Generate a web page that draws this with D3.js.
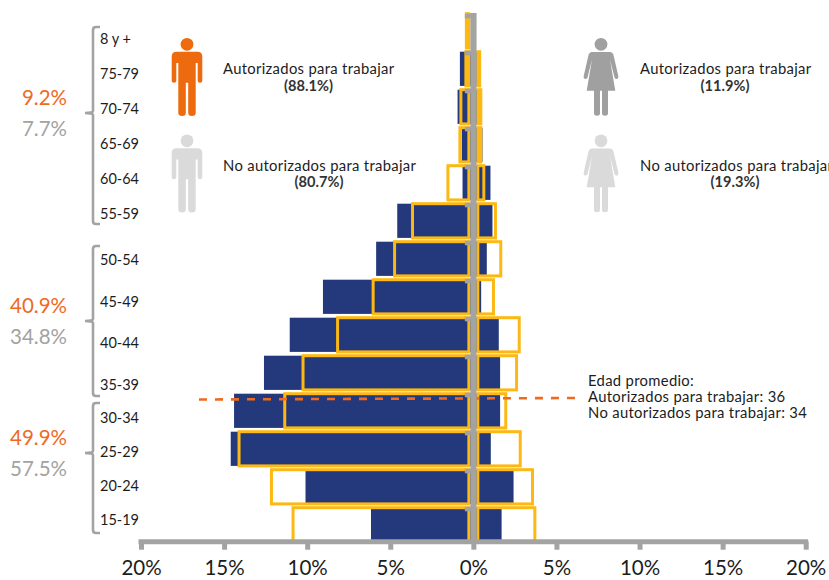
<!DOCTYPE html>
<html lang="es">
<head>
<meta charset="utf-8">
<title>Pirámide de edad</title>
<script src="https://cdn.jsdelivr.net/npm/d3@7"></script>
<style>
  html, body { margin: 0; padding: 0; background: #fff; overflow: hidden; }
  svg { display: block; font-family: Lato, "Open Sans", sans-serif; }
</style>
</head>
<body>
<svg id="chart" width="829" height="580"></svg>
<script>
// Age groups, oldest at the top
const ageGroups = ["8 y +", "75-79", "70-74", "65-69", "60-64", "55-59", "50-54", "45-49", "40-44", "35-39", "30-34", "25-29", "20-24", "15-19"];

// Share of each population, in percent (men to the left, women to the right)
const authorizedMen     = [0, 0.81, 0.95, 0.7, 0.65, 4.58, 5.85, 9.05, 11.05, 12.6, 14.4, 14.6, 10.1, 6.16];
const authorizedWomen   = [0, 0.2, 0.35, 0.55, 1.03, 1.15, 0.81, 0.47, 1.53, 1.61, 1.61, 1.05, 2.42, 1.7];
const unauthorizedMen   = [0.42, 0.45, 0.75, 0.81, 1.53, 3.66, 4.74, 6.03, 8.17, 10.25, 11.35, 14.1, 12.15, 10.85];
const unauthorizedWomen = [0, 0.38, 0.45, 0.45, 0.63, 1.33, 1.65, 1.21, 2.76, 2.6, 1.95, 2.82, 3.56, 3.7];

const axisTicks = [-20, -15, -10, -5, 0, 5, 10, 15, 20];

// Bracketed age ranges with their share for each population
const bracketGroups = [
  { ages: ageGroups.slice(0, 6), top: 27, bottom: 224, nub: 113, authorized: "9.2%", unauthorized: "7.7%", y1: 105, y2: 136, labelStart: 44, labelStep: 35 },
  { ages: ageGroups.slice(6, 10), top: 246, bottom: 396, nub: 321, authorized: "40.9%", unauthorized: "34.8%", y1: 313, y2: 344, labelStart: 265, labelStep: 41.5 },
  { ages: ageGroups.slice(10), top: 403, bottom: 533, nub: 453, authorized: "49.9%", unauthorized: "57.5%", y1: 445, y2: 476, labelStart: 423, labelStep: 34 }
];

const averageAgeNote = ["Edad promedio:", "Autorizados para trabajar: 36", "No autorizados para trabajar: 34"];

const legendEntries = [
  { figure: "man", color: "#EE6A0E", x: 187, dy: 0, label: "Autorizados para trabajar", value: "(88.1%)", tx: 223, vx: 308.5 },
  { figure: "man", color: "#DADADA", x: 187, dy: 96.5, label: "No autorizados para trabajar", value: "(80.7%)", tx: 223, vx: 319 },
  { figure: "woman", color: "#A0A0A0", x: 601, dy: 0, label: "Autorizados para trabajar", value: "(11.9%)", tx: 640, vx: 725 },
  { figure: "woman", color: "#DADADA", x: 601, dy: 96.5, label: "No autorizados para trabajar", value: "(19.3%)", tx: 640, vx: 735 }
];

const BLUE = "#24397B", YELLOW = "#FDB813", GRAY = "#A3A3A1", ORANGE = "#EE6A1F", INK = "#1c1c1c";

const svg = d3.select("#chart");
const x = d3.scaleLinear().domain([-20, 20]).range([141, 805.7]);
const y = d3.scaleBand().domain(ageGroups).range([13.7, 541.9]).paddingInner(0.1).paddingOuter(0);
const x0 = x(0);
const spineGap = 4.5;   // unauthorized outlines stop short of the centre spine

const rows = ageGroups.map((age, i) => ({
  age,
  men: authorizedMen[i], women: authorizedWomen[i],
  outlineMen: unauthorizedMen[i], outlineWomen: unauthorizedWomen[i]
}));

// Filled bars: authorized population
svg.append("g").selectAll("rect").data(rows).join("rect")
  .attr("x", d => x(-d.men))
  .attr("y", d => y(d.age))
  .attr("width", d => x(d.women) - x(-d.men))
  .attr("height", y.bandwidth())
  .attr("fill", BLUE);

// Outlined bars: unauthorized population
const outlines = svg.append("g").attr("fill", "none").attr("stroke", YELLOW).attr("stroke-width", 3);
outlines.selectAll("rect.m").data(rows.filter(d => d.outlineMen > 0)).join("rect").attr("class", "m")
  .attr("x", d => x(-d.outlineMen))
  .attr("y", d => y(d.age))
  .attr("width", d => x0 - spineGap - x(-d.outlineMen))
  .attr("height", y.bandwidth());
outlines.selectAll("rect.w").data(rows.filter(d => d.outlineWomen > 0)).join("rect").attr("class", "w")
  .attr("x", x0 + spineGap)
  .attr("y", d => y(d.age))
  .attr("width", d => x(d.outlineWomen) - x0 - spineGap)
  .attr("height", y.bandwidth());

// Average age marker
svg.append("line")
  .attr("x1", 199).attr("x2", 576).attr("y1", 399.5).attr("y2", 398)
  .attr("stroke", ORANGE).attr("stroke-width", 2.6).attr("stroke-dasharray", "8 8");

// Centre spine with a notch at the top of each age band
svg.append("rect").attr("x", x0 - 3).attr("y", 13).attr("width", 6.2).attr("height", 529).attr("fill", GRAY);
svg.append("g").selectAll("rect").data(ageGroups).join("rect")
  .attr("x", x0 - 8.5)
  .attr("y", d => y(d) - 1 + (ageGroups.indexOf(d) === 0 ? 1 : 0))
  .attr("width", 6)
  .attr("height", 4.6)
  .attr("fill", GRAY);

// Horizontal percentage axis
const axis = d3.axisBottom(x).tickValues(axisTicks).tickFormat(d => Math.abs(d) + "%").tickSize(8).tickSizeOuter(0).tickPadding(11);
const axisG = svg.append("g").attr("transform", "translate(0,541.7)").call(axis);
axisG.select(".domain").attr("stroke", GRAY).attr("stroke-width", 5).attr("d", `M${x(-20) - 2.5},0H${x(20) + 2.5}`);
axisG.selectAll(".tick line").attr("stroke", GRAY).attr("stroke-width", 5);
axisG.selectAll(".tick text").attr("fill", INK).attr("font-size", 20.5).attr("font-family", "Lato, sans-serif");

// Brackets, age labels and the group shares beside them
const bracket = svg.append("g");
bracketGroups.forEach(g => {
  bracket.append("path")
    .attr("d", `M100,${g.top}H96Q93,${g.top} 93,${g.top + 3}V${g.nub - 2}Q93,${g.nub} 85,${g.nub}Q93,${g.nub} 93,${g.nub + 2}V${g.bottom - 3}Q93,${g.bottom} 96,${g.bottom}H100`)
    .attr("fill", "none").attr("stroke", GRAY).attr("stroke-width", 2.6);
  bracket.append("text").attr("x", 67).attr("y", g.y1).attr("text-anchor", "end")
    .attr("font-size", 20.5).attr("fill", ORANGE).text(g.authorized);
  bracket.append("text").attr("x", 67).attr("y", g.y2).attr("text-anchor", "end")
    .attr("font-size", 20.5).attr("fill", GRAY).text(g.unauthorized);
  bracket.append("g").selectAll("text").data(g.ages).join("text")
    .attr("x", 100)
    .attr("y", (d, i) => g.labelStart + i * g.labelStep)
    .attr("font-size", 14.5)
    .attr("fill", INK)
    .text(d => d);
});

// Pictograms drawn around a vertical centre line
const manPath = "M-15.3,12.5Q-15.3,7.7 -10.5,7.7H10.5Q15.3,7.7 15.3,12.5V36.8Q15.3,38.7 13,38.7Q10.7,38.7 10.7,36.8V19H8.7V69Q8.7,72 4.9,72Q1.2,72 1.2,69V38.7H-1.2V69Q-1.2,72 -4.9,72Q-8.7,72 -8.7,69V19H-10.7V36.8Q-10.7,38.7 -13,38.7Q-15.3,38.7 -15.3,36.8Z";
const womanPath = "M-9,8H9Q11.5,8 12.5,11L17.3,32Q17.8,34.5 16,35Q14.3,35.3 13.5,33.5L9,15.5L14.3,46.7H7V69.3Q7,71.8 4,71.8Q1,71.8 1,69.3V46.7H-1V69.3Q-1,71.8 -4,71.8Q-7,71.8 -7,69.3V46.7H-14.3L-9,15.5L-13.5,33.5Q-14.3,35.3 -16,35Q-17.8,34.5 -17.3,32L-12.5,11Q-11.5,8 -9,8Z";

const legend = svg.append("g").selectAll("g").data(legendEntries).join("g");
legend.append("circle")
  .attr("cx", d => d.x).attr("cy", d => 44.3 + d.dy).attr("r", 6.4).attr("fill", d => d.color);
legend.append("path")
  .attr("transform", d => `translate(${d.x},${44 + d.dy})`)
  .attr("d", d => d.figure === "man" ? manPath : womanPath)
  .attr("fill", d => d.color);
legend.append("text")
  .attr("x", d => d.tx).attr("y", d => 74 + d.dy)
  .attr("font-size", 14.8).attr("letter-spacing", 0.32).attr("fill", INK).text(d => d.label);
legend.append("text")
  .attr("x", d => d.vx).attr("y", d => 90.5 + d.dy).attr("text-anchor", "middle")
  .attr("font-size", 14.6).attr("font-weight", 700).attr("fill", "#333").text(d => d.value);

// Average age note
svg.append("g").selectAll("text").data(averageAgeNote).join("text")
  .attr("x", 588).attr("y", (d, i) => 386 + i * 16)
  .attr("font-size", 14.8).attr("letter-spacing", 0.32).attr("fill", INK).text(d => d);
</script>
</body>
</html>
